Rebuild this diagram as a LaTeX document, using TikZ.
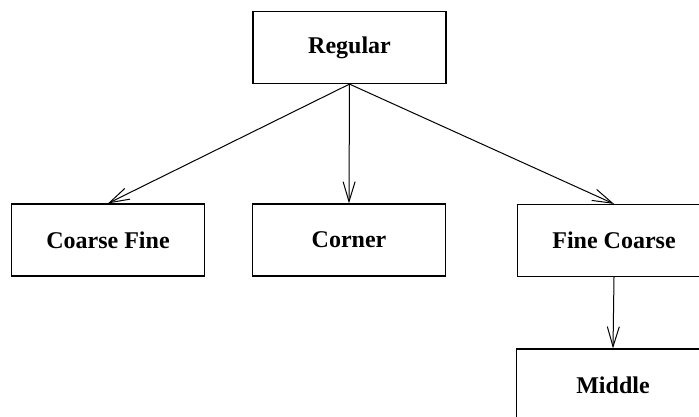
\documentclass[tikz,border=0pt]{standalone}
\usepackage{fontspec}
\setmainfont{Liberation Serif}
\usetikzlibrary{arrows.meta}
\begin{document}
\begin{tikzpicture}[x=1pt,y=-1pt,
  box/.style={draw, line width=1.2pt, rectangle, inner sep=0pt,
    minimum width=193pt, minimum height=72pt,
    font=\fontsize{24}{28}\selectfont\bfseries},
  link/.style={line width=1pt, -{Straight Barb[length=20pt,width=12pt,line width=1pt]}}]
  % page area
  \useasboundingbox (0,0) rectangle (699,416);
  \clip (0,0) rectangle (699,416);
  % boxes
  \node[box] (reg) at (349.5,47.5) {Regular};
  \node[box] (cf)  at (108,240) {Coarse Fine};
  \node[box] (cor) at (349,240) {Corner};
  \node[box] (fc)  at (614,240.5) {Fine Coarse};
  \node[box] (mid) at (613,385) {Middle};
  % connectors
  \draw[link] (reg.south) -- (cf.north);
  \draw[link] (reg.south) -- (cor.north);
  \draw[link] (reg.south) -- (fc.north);
  \draw[link] (fc.south) -- (mid.north);
\end{tikzpicture}
\end{document}
